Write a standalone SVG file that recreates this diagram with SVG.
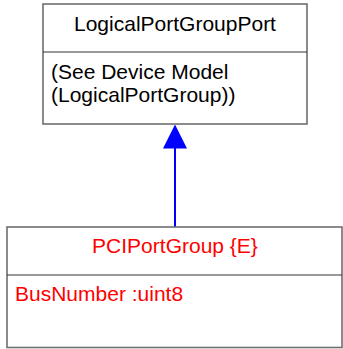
<svg xmlns="http://www.w3.org/2000/svg" width="343" height="349" viewBox="0 0 343 349">
<style>
.box{fill:#fff;stroke:#6e6e6e;stroke-width:1.6}
.div{stroke:#333;stroke-width:1.2}
.t{font-family:"Liberation Sans",Arial,sans-serif;font-size:21px}
.blk{fill:#000}
.red{fill:#ff0000}
.edge{stroke:#0000ff;stroke-width:2;fill:none}
</style>
<g id="connectors">
<path class="edge" d="M175 227 L175 148"/>
<path d="M175 124.5 L187 148.5 L163 148.5 Z" fill="#0000ff"/>
</g>
<g id="LogicalPortGroupPort">
<rect class="box" x="43" y="4" width="264" height="120"/>
<line class="div" x1="43" y1="52" x2="307" y2="52"/>
<text class="t blk" x="175" y="31" text-anchor="middle">LogicalPortGroupPort</text>
<text class="t blk" x="51" y="79">(See Device Model</text>
<text class="t blk" x="51" y="102">(LogicalPortGroup))</text>
</g>
<g id="PCIPortGroup">
<rect class="box" x="7" y="227" width="335" height="120.5"/>
<line class="div" x1="7" y1="275" x2="342" y2="275"/>
<text class="t red" x="175" y="253" text-anchor="middle">PCIPortGroup {E}</text>
<text class="t red" x="15" y="301">BusNumber :uint8</text>
</g>
</svg>
